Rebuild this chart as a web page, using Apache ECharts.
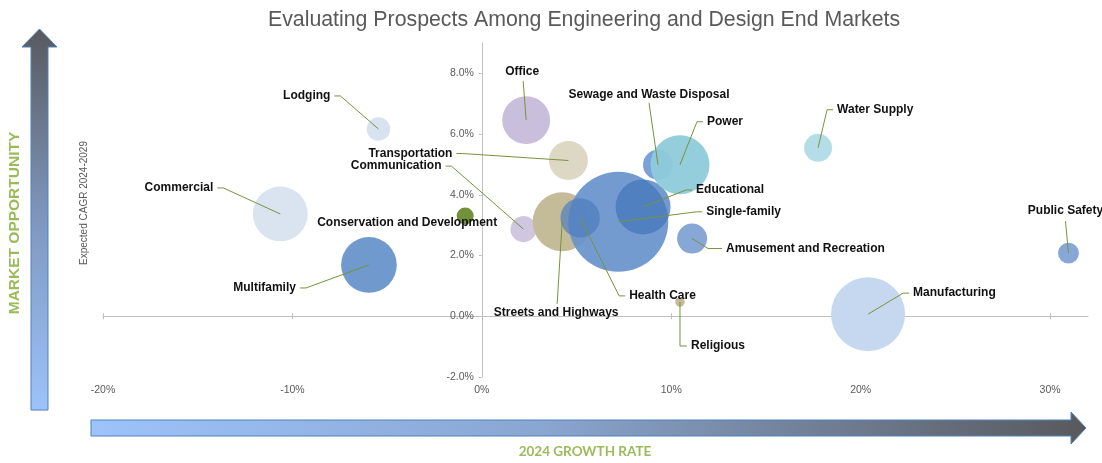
<!DOCTYPE html>
<html>
<head>
<meta charset="utf-8">
<title>Evaluating Prospects Among Engineering and Design End Markets</title>
<script src="https://cdn.jsdelivr.net/npm/echarts@6/dist/echarts.min.js"></script>
<style>
  html, body { margin: 0; padding: 0; background: #ffffff; }
  #chart { width: 1102px; height: 463px; }
</style>
</head>
<body>
<div id="chart"></div>
<script>
// End markets, drawn in this order (later bubbles sit on top)
const markets = [
  'Commercial', 'Lodging', 'Multifamily', 'Conservation and Development',
  'Office', 'Communication', 'Transportation', 'Streets and Highways',
  'Single-family', 'Health Care', 'Educational', 'Sewage and Waste Disposal',
  'Power', 'Amusement and Recreation', 'Water Supply', 'Manufacturing',
  'Religious', 'Public Safety'
];
// 2024 growth rate, %
const growth2024 = [
  -10.64, -5.46, -5.96, -0.88,
  2.34, 2.20, 4.57, 4.24,
  7.20, 5.19, 8.51, 9.30,
  10.46, 11.10, 17.75, 20.39,
  10.46, 30.97
];
// Expected CAGR 2024-2029, %
const cagr = [
  3.37, 6.17, 1.69, 3.30,
  6.46, 2.87, 5.13, 3.11,
  3.11, 3.24, 3.60, 4.99,
  4.99, 2.56, 5.55, 0.07,
  0.47, 2.08
];
// Relative market size (bubble area)
const marketSize = [
  30, 5.5, 31, 2.9,
  23, 6.8, 15.2, 34.8,
  100, 15.5, 30.2, 9,
  34.8, 9, 7.8, 54.8,
  0.9, 4.4
];

const xRange = [-20, 32];
const yRange = [-2, 9];
const xTicks = [-20, -10, 0, 10, 20, 30];
const yTicks = [-2, 0, 2, 4, 6, 8];

// Bubble fills
const bubbleColors = {
  'Commercial': '#dae3f0',
  'Lodging': '#d8e2f0',
  'Multifamily': '#7099cd',
  'Conservation and Development': '#71913a',
  'Office': '#c9bedb',
  'Communication': '#d0c6e0',
  'Transportation': '#dcd8c4',
  'Streets and Highways': '#c4bc98',
  'Single-family': '#6893cc',
  'Health Care': '#4f7dbd',
  'Educational': '#4677bb',
  'Sewage and Waste Disposal': '#7aa1d9',
  'Power': '#8ecbdb',
  'Amusement and Recreation': '#87a8d6',
  'Water Supply': '#b5dde8',
  'Manufacturing': '#c5d8f0',
  'Religious': '#c4bc98',
  'Public Safety': '#87a8d6'
};
const bubbleOpacity = {
  'Single-family': 0.92,
  'Health Care': 0.7,
  'Educational': 0.75,
  'Power': 0.95
};

// Callout placement, pixel offsets from the bubble centre
const callouts = {
  'Office': { dx: -4, dy: -48, align: 'center', lineTo: [-3, -39] },
  'Lodging': { dx: -48, dy: -33, align: 'right' },
  'Commercial': { dx: -67, dy: -26, align: 'right' },
  'Multifamily': { dx: -73, dy: 23, align: 'right' },
  'Conservation and Development': { dx: -58, dy: 7, align: 'center' },
  'Transportation': { dx: -116, dy: -7, align: 'right' },
  'Communication': { dx: -82, dy: -63, align: 'right' },
  'Sewage and Waste Disposal': { dx: -9, dy: -70, align: 'center', lineTo: [-9, -62] },
  'Power': { dx: 27, dy: -43, align: 'left' },
  'Water Supply': { dx: 19, dy: -38, align: 'left' },
  'Educational': { dx: 53, dy: -17, align: 'left' },
  'Single-family': { dx: 88, dy: -10, align: 'left' },
  'Amusement and Recreation': { dx: 34, dy: 10, align: 'left', elbow: 14 },
  'Public Safety': { dx: -3, dy: -42, align: 'center', lineTo: [-3, -32] },
  'Manufacturing': { dx: 45, dy: -21, align: 'left' },
  'Health Care': { dx: 49, dy: 78, align: 'left' },
  'Streets and Highways': { dx: -6, dy: 91, align: 'center', lineTo: [-5, 82] },
  'Religious': { dx: 11, dy: 44, align: 'left', elbow: 7 }
};

const FONT = '"Liberation Sans", Arial, sans-serif';
const AXIS_GREY = '#bfbfbf';
const TEXT_GREY = '#595959';
const LEADER = '#77933c';

const W = 1102;
const GRID = { left: 103, right: 14, top: 43, bottom: 86 };
// the value axis sits on the x = 0 line: shift it in from the grid's left edge
const gridWidth = W - GRID.left - GRID.right;
const yAxisShift = -((0 - xRange[0]) / (xRange[1] - xRange[0])) * gridWidth;

const bubbleData = markets.map((name, i) => ({
  name,
  value: [growth2024[i], cagr[i], marketSize[i]],
  itemStyle: { color: bubbleColors[name], opacity: bubbleOpacity[name] || 1 }
}));
const calloutData = markets.map((name, i) => ({ name, value: [growth2024[i], cagr[i]] }));

function renderCallout(params, api) {
  const name = markets[params.dataIndex];
  const p = callouts[name];
  const c = api.coord([api.value(0), api.value(1)]);
  const tx = c[0] + p.dx;
  const ty = c[1] + p.dy;
  const children = [];
  let pts = null;
  if (p.align === 'left' || p.align === 'right') {
    const s = p.align === 'left' ? -1 : 1;
    const end = [tx + s * 4, ty];
    const elbow = [end[0] + s * (p.elbow || 6), ty];
    pts = [c, elbow, end];
  } else if (p.lineTo) {
    pts = [c, [c[0] + p.lineTo[0], c[1] + p.lineTo[1]]];
  }
  if (pts) {
    children.push({
      type: 'polyline',
      shape: { points: pts },
      style: { stroke: LEADER, lineWidth: 1, fill: null }
    });
  }
  children.push({
    type: 'text',
    style: {
      text: name, x: tx, y: ty,
      align: p.align, verticalAlign: 'middle',
      font: 'bold 12px ' + FONT, fill: '#111111'
    }
  });
  return { type: 'group', children };
}

const chart = echarts.init(document.getElementById('chart'), null, { renderer: 'canvas' });

chart.setOption({
  animation: false,
  backgroundColor: '#ffffff',
  title: {
    text: 'Evaluating Prospects Among Engineering and Design End Markets',
    left: 263, top: 5,
    textStyle: { fontFamily: FONT, fontSize: 21.3, fontWeight: 'normal', color: TEXT_GREY }
  },
  grid: Object.assign({ containLabel: false }, GRID),
  xAxis: [
    {
      // zero line with downward ticks
      type: 'value', min: xRange[0], max: xRange[1], interval: 10,
      axisLine: { show: true, onZero: true, onZeroAxisIndex: 0, lineStyle: { color: AXIS_GREY, width: 1 } },
      axisTick: { show: true, length: 3, customValues: xTicks, lineStyle: { color: AXIS_GREY } },
      axisLabel: { show: false },
      splitLine: { show: false }
    },
    {
      // upward half of the crossing ticks
      type: 'value', min: xRange[0], max: xRange[1], interval: 10, position: 'bottom',
      axisLine: { show: false, onZero: true, onZeroAxisIndex: 0 },
      axisTick: { show: true, inside: true, length: 3, customValues: xTicks, lineStyle: { color: AXIS_GREY } },
      axisLabel: { show: false },
      splitLine: { show: false }
    },
    {
      // tick labels along the bottom edge
      type: 'value', min: xRange[0], max: xRange[1], interval: 10, position: 'bottom',
      axisLine: { show: false, onZero: false },
      axisTick: { show: false },
      axisLabel: {
        customValues: xTicks, margin: 8,
        formatter: v => v + '%',
        color: TEXT_GREY, fontSize: 10.5, fontFamily: FONT
      },
      splitLine: { show: false }
    }
  ],
  yAxis: {
    type: 'value', min: yRange[0], max: yRange[1], interval: 2,
    position: 'left', offset: yAxisShift,
    axisLine: { show: true, onZero: false, lineStyle: { color: AXIS_GREY, width: 1 } },
    axisTick: { show: true, length: 3, customValues: yTicks, lineStyle: { color: AXIS_GREY } },
    axisLabel: {
      customValues: yTicks, margin: 8,
      formatter: v => v.toFixed(1) + '%',
      color: TEXT_GREY, fontSize: 10.5, fontFamily: FONT
    },
    splitLine: { show: false }
  },
  series: [
    {
      type: 'scatter',
      name: 'Markets',
      data: bubbleData,
      symbol: 'circle',
      symbolSize: v => 10 * Math.sqrt(v[2]),
      label: { show: false },
      emphasis: { disabled: true },
      z: 2
    },
    {
      type: 'custom',
      name: 'Callouts',
      data: calloutData,
      encode: { x: 0, y: 1 },
      renderItem: renderCallout,
      clip: false,
      silent: true,
      z: 5
    }
  ],
  graphic: [
    {
      // vertical "market opportunity" arrow
      type: 'polygon',
      shape: { points: [[31, 410], [31, 47], [22, 47], [39.5, 29], [57, 47], [48, 47], [48, 410]] },
      style: {
        fill: {
          type: 'linear', x: 0, y: 0, x2: 0, y2: 1,
          colorStops: [
            { offset: 0, color: '#58595c' },
            { offset: 0.5, color: '#7f97bf' },
            { offset: 1, color: '#9dc3fa' }
          ]
        },
        stroke: '#4f81bd', lineWidth: 1
      }
    },
    {
      // horizontal "growth rate" arrow
      type: 'polygon',
      shape: { points: [[91, 420], [1071, 420], [1071, 412], [1086, 428], [1071, 444], [1071, 436], [91, 436]] },
      style: {
        fill: {
          type: 'linear', x: 0, y: 0, x2: 1, y2: 0,
          colorStops: [
            { offset: 0, color: '#9dc3fa' },
            { offset: 0.45, color: '#8aa6d2' },
            { offset: 1, color: '#58595c' }
          ]
        },
        stroke: '#4f81bd', lineWidth: 1
      }
    },
    {
      type: 'text', x: 15, y: 223, rotation: Math.PI / 2,
      style: {
        text: 'MARKET OPPORTUNITY', align: 'center', verticalAlign: 'middle',
        font: 'bold 15.5px ' + FONT, fill: '#9bbb59'
      }
    },
    {
      type: 'text', x: 84, y: 203, rotation: Math.PI / 2,
      style: {
        text: 'Expected CAGR 2024-2029', align: 'center', verticalAlign: 'middle',
        font: '10px ' + FONT, fill: TEXT_GREY
      }
    },
    {
      type: 'text', x: 585, y: 452,
      style: {
        text: '2024 GROWTH RATE', align: 'center', verticalAlign: 'middle',
        font: 'bold 13.5px Lato, "Open Sans", sans-serif', fill: '#9bbb59'
      }
    }
  ]
});
</script>
</body>
</html>
